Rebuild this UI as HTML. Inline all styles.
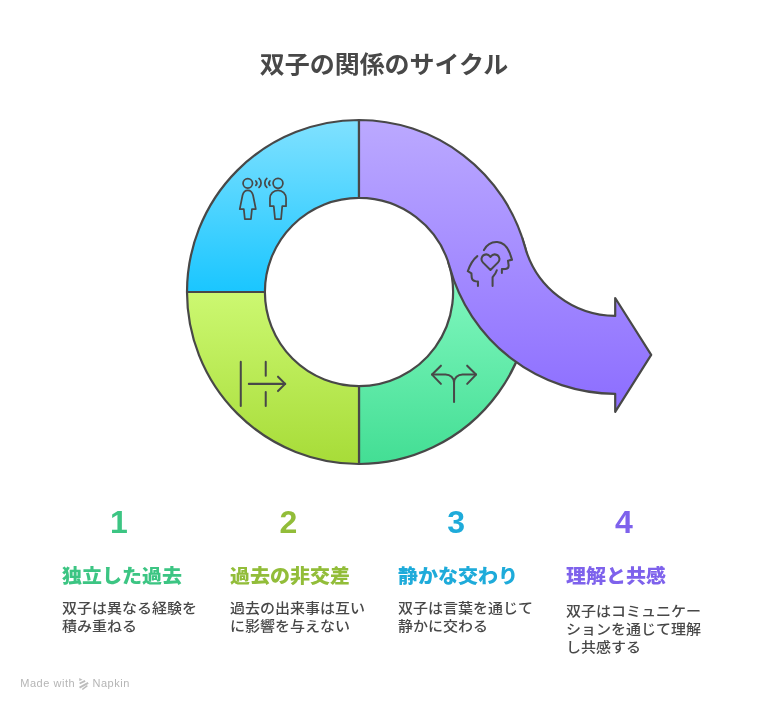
<!DOCTYPE html>
<html lang="ja">
<head>
<meta charset="utf-8">
<title>双子の関係のサイクル</title>
<style>
html,body{margin:0;padding:0;background:#fff;}
body{width:768px;height:709px;overflow:hidden;font-family:"Liberation Sans", "Noto Sans CJK JP", sans-serif;}
svg{display:block;will-change:transform;}
svg text{font-family:"Liberation Sans", "Noto Sans CJK JP", sans-serif;}
</style>
</head>
<body>
<svg width="768" height="709" viewBox="0 0 768 709">
<defs>
<linearGradient id="gBlue" gradientUnits="userSpaceOnUse" x1="0" y1="120" x2="0" y2="292"><stop offset="0" stop-color="#80e1ff"/><stop offset="1" stop-color="#1ac6ff"/></linearGradient>
<linearGradient id="gLime" gradientUnits="userSpaceOnUse" x1="0" y1="292" x2="0" y2="464"><stop offset="0" stop-color="#ccf871"/><stop offset="1" stop-color="#a7dc38"/></linearGradient>
<linearGradient id="gGreen" gradientUnits="userSpaceOnUse" x1="0" y1="285" x2="0" y2="464"><stop offset="0" stop-color="#7ef6bd"/><stop offset="1" stop-color="#43de94"/></linearGradient>
<linearGradient id="gPurple" gradientUnits="userSpaceOnUse" x1="0" y1="120" x2="0" y2="412"><stop offset="0" stop-color="#bba9ff"/><stop offset="1" stop-color="#8c6dff"/></linearGradient>
</defs>
<rect width="768" height="709" fill="#ffffff"/>
<text transform="translate(384 73) scale(1 0.96)" text-anchor="middle" font-size="25" font-weight="700" fill="#484848">双子の関係のサイクル</text>
<g stroke="#484848" stroke-width="2.2" stroke-linejoin="round" stroke-linecap="round">
<path d="M522.31 238.01 A172 172 0 0 1 359.00 464.00 L359.00 386.10 A94.1 94.1 0 0 0 448.34 262.46 Z" fill="url(#gGreen)"/>
<path d="M359.00 464.00 A172 172 0 0 1 187.00 292.00 L264.90 292.00 A94.1 94.1 0 0 0 359.00 386.10 Z" fill="url(#gLime)"/>
<path d="M187.00 292.00 A172 172 0 0 1 359.00 120.00 L359.00 197.90 A94.1 94.1 0 0 0 264.90 292.00 Z" fill="url(#gBlue)"/>
<path d="M359.00 120.00 A172 172 0 0 1 524.91 246.63 A94.1 94.1 0 0 0 615.2 315.9 L615.2 315.9 L615.2 298 L651.2 354.8 L615.2 411.8 L615.2 393.8 A172 172 0 0 1 449.77 267.18 A94.1 94.1 0 0 0 359.00 197.90 Z" fill="url(#gPurple)"/>
</g>
<g fill="none" stroke="#484848" stroke-linecap="round" stroke-linejoin="round">
<!-- people talking -->
<g transform="translate(234 170) scale(0.084626)" stroke-width="20.5">
<circle cx="163" cy="158" r="56"/>
<path d="M163 240 C126 240 109 264 101 298 L68 462 H116 L128 580 H200 L212 462 H258 L225 298 C217 264 200 240 163 240 Z"/>
<circle cx="520" cy="158" r="58"/>
<path d="M425 428 V335 C425 282 467 240 520 240 C573 240 615 282 615 335 V428 H570 L556 580 H485 L470 428 Z"/>
<path d="M258 130 C272 145 272 168 258 182"/>
<path d="M296 100 C328 128 328 178 296 206"/>
<path d="M424 130 C410 145 410 168 424 182"/>
<path d="M388 100 C356 128 356 178 388 206"/>
</g>
<!-- head with heart -->
<g transform="translate(460 234) scale(0.084626)" stroke-width="24">
<path d="M283 190 C320 120 385 92 440 95 C510 100 560 150 590 230 L615 305 L567 315 L575 375 C575 395 560 410 540 412 L495 415 V462"/>
<path d="M205 262 C150 305 115 375 92 440 L135 465 L138 510 C140 535 160 555 185 558 L212 560 V615"/>
<path d="M360 425 L270 335 C245 310 250 265 283 248 C310 235 342 245 360 272 C378 245 410 235 437 248 C470 265 475 310 450 335 Z"/>
<path d="M435 428 C425 460 410 485 385 510 V615"/>
</g>
<!-- arrow through dashed line -->
<g transform="translate(234 353) scale(0.084626)" stroke-width="24">
<path d="M80 105 V625"/>
<path d="M375 105 V270"/>
<path d="M375 460 V625"/>
<path d="M175 365 H605"/>
<path d="M520 280 L605 365 L520 450"/>
</g>
<!-- split arrows -->
<g transform="translate(424 353) scale(0.084626)" stroke-width="24">
<path d="M355 580 V350"/>
<path d="M355 350 C355 295 310 255 255 255 H95"/>
<path d="M355 350 C355 295 400 255 455 255 H615"/>
<path d="M200 150 L95 255 L200 365"/>
<path d="M510 150 L615 255 L510 365"/>
</g>
</g>
<!-- napkin logo -->
<g transform="translate(70 672) scale(0.0390625)" fill="#bcbcbc" stroke="#bcbcbc" stroke-linecap="butt">
<path d="M236 152 L322 196 L238 232 Z" stroke="none"/>
<path d="M246 294 L388 226" stroke-width="46" fill="none"/>
<path d="M244 398 L466 276" stroke-width="50" fill="none"/>
<path d="M314 448 L444 350" stroke-width="40" fill="none"/>
</g>

<text transform="translate(119 533)" text-anchor="middle" font-size="32" font-weight="700" fill="#3cc583">1</text>
<text transform="translate(62 583) scale(1 0.96)" font-size="20" font-weight="900" fill="#3cc583">独立した過去</text>
<text transform="translate(62 613) scale(1 0.94)" font-size="15" font-weight="500" fill="#484848">双子は異なる経験を</text>
<text transform="translate(62 631) scale(1 0.94)" font-size="15" font-weight="500" fill="#484848">積み重ねる</text>
<text transform="translate(288.3 533)" text-anchor="middle" font-size="32" font-weight="700" fill="#92bd39">2</text>
<text transform="translate(230 583) scale(1 0.96)" font-size="20" font-weight="900" fill="#92bd39">過去の非交差</text>
<text transform="translate(230 613) scale(1 0.94)" font-size="15" font-weight="500" fill="#484848">過去の出来事は互い</text>
<text transform="translate(230 631) scale(1 0.94)" font-size="15" font-weight="500" fill="#484848">に影響を与えない</text>
<text transform="translate(456.2 533)" text-anchor="middle" font-size="32" font-weight="700" fill="#1eabda">3</text>
<text transform="translate(398 583) scale(1 0.96)" font-size="20" font-weight="900" fill="#1eabda">静かな交わり</text>
<text transform="translate(398 613) scale(1 0.94)" font-size="15" font-weight="500" fill="#484848">双子は言葉を通じて</text>
<text transform="translate(398 631) scale(1 0.94)" font-size="15" font-weight="500" fill="#484848">静かに交わる</text>
<text transform="translate(624 533)" text-anchor="middle" font-size="32" font-weight="700" fill="#7e62ec">4</text>
<text transform="translate(566 583) scale(1 0.96)" font-size="20" font-weight="900" fill="#7e62ec">理解と共感</text>
<text transform="translate(566 616) scale(1 0.94)" font-size="15" font-weight="500" fill="#484848">双子はコミュニケー</text>
<text transform="translate(566 634) scale(1 0.94)" font-size="15" font-weight="500" fill="#484848">ションを通じて理解</text>
<text transform="translate(566 652) scale(1 0.94)" font-size="15" font-weight="500" fill="#484848">し共感する</text>
<g fill="#b5b5b5" font-size="11" letter-spacing="0.55">
<text transform="translate(20.2 687)">Made with</text>
<text transform="translate(92.4 687)">Napkin</text>
</g>
</svg>
</body>
</html>
